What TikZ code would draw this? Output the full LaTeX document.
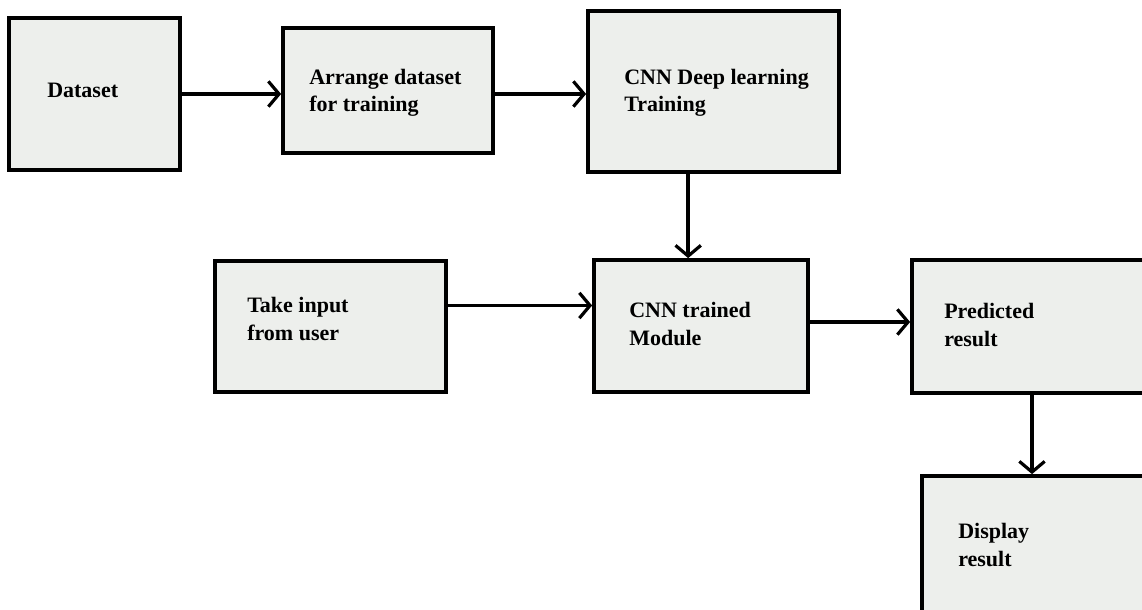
\documentclass[tikz,border=0pt]{standalone}
\usepackage{amsmath}
\usepackage{amssymb}
\usepackage{fontspec}
\setmainfont{Liberation Serif}
\usetikzlibrary{arrows.meta}
\definecolor{boxfill}{RGB}{237,239,236}
\tikzset{
  blockbox/.style={draw=black, fill=boxfill, line width=2.8pt, inner sep=0pt},
  txt/.style={anchor=west, inner sep=0.75pt, align=left, font=\fontsize{16.5}{20.5}\selectfont\bfseries},
  arr/.style={line width=2.6pt, -{Straight Barb[length=8pt,width=19pt,line width=2.4pt]}}
}

\begin{document}
\begin{tikzpicture}[x=0.75pt,y=0.75pt,yscale=-1,xscale=1]
\useasboundingbox (0,0) rectangle (1142,610);
\clip (0,0) rectangle (1142,610);

%Shape: Rectangle [id:dataset]
\node [blockbox, minimum width=171*0.75pt, minimum height=152*0.75pt] (dataset) at (94.5,94) {};
%Shape: Rectangle [id:arrange]
\node [blockbox, minimum width=210*0.75pt, minimum height=125*0.75pt] (arrange) at (388,90.5) {};
%Shape: Rectangle [id:cnndeep]
\node [blockbox, minimum width=251*0.75pt, minimum height=161*0.75pt] (cnndeep) at (713.5,91.5) {};
%Shape: Rectangle [id:takeinput]
\node [blockbox, minimum width=231*0.75pt, minimum height=131*0.75pt] (takeinput) at (330.5,326.5) {};
%Shape: Rectangle [id:cnntrained]
\node [blockbox, minimum width=214*0.75pt, minimum height=132*0.75pt] (cnntrained) at (701,326) {};
%Shape: Rectangle [id:predicted]
\node [blockbox, minimum width=248*0.75pt, minimum height=133*0.75pt] (predicted) at (1036,326.5) {};
%Shape: Rectangle [id:display]
\node [blockbox, minimum width=248*0.75pt, minimum height=164*0.75pt] (display) at (1046,558) {};

% Text Node
\draw (46,90) node [txt] (datasettxt) {Dataset};
% Text Node
\draw (308,93) node [txt] (arrangetxt) {Arrange dataset\\for training};
% Text Node
\draw (623,93) node [txt] (cnndeeptxt) {CNN Deep learning\\Training};
% Text Node
\draw (246,319) node [txt] (takeinputtxt) {Take input\\from user};
% Text Node
\draw (628,324) node [txt] (cnntrainedtxt) {CNN trained\\Module};
% Text Node
\draw (943,325) node [txt] (predictedtxt) {Predicted\\result};
% Text Node
\draw (957,545) node [txt] (displaytxt) {Display\\result};

%Straight Lines
\draw [arr] (dataset.east) -- (dataset.east -| arrange.west);
\draw [arr] (arrange.east |- dataset.east) -- (cnndeep.west |- dataset.east);
\draw [arr] ([xshift=-19pt]cnndeep.south) -- ([xshift=-19pt]cnndeep.south |- cnntrained.north);
\draw [arr] ([yshift=-15.75pt]takeinput.east) -- ([yshift=-15.75pt]takeinput.east -| cnntrained.west);
\draw [arr] ([yshift=-3pt]cnntrained.east) -- ([yshift=-3pt]cnntrained.east -| predicted.west);
\draw [arr] ([xshift=-3pt]predicted.south) -- ([xshift=-3pt]predicted.south |- display.north);

\end{tikzpicture}
\end{document}
